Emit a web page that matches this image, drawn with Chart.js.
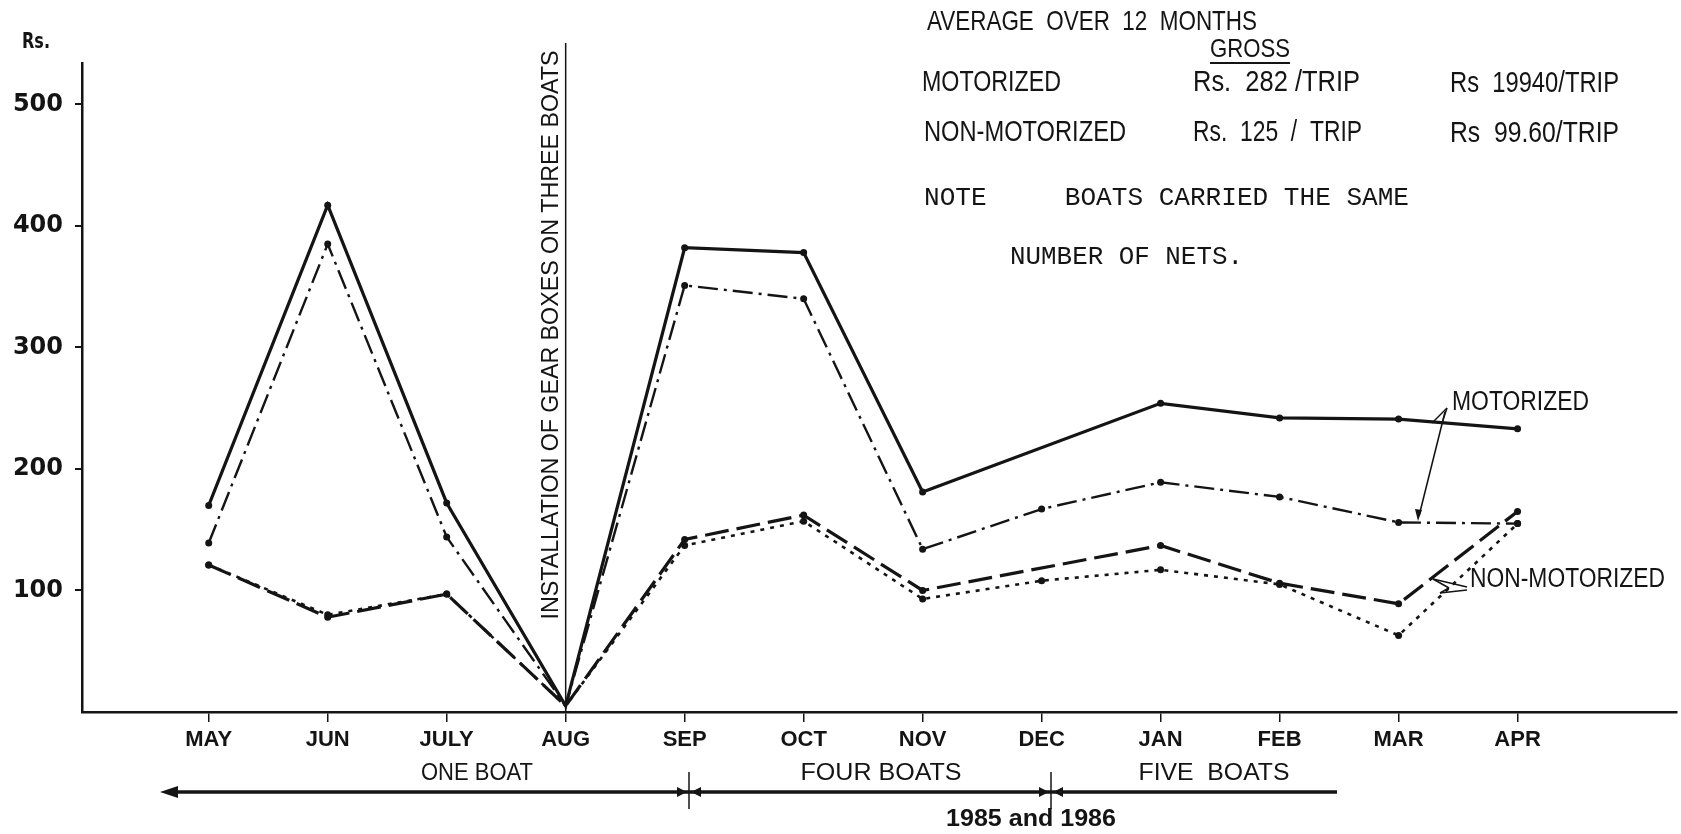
<!DOCTYPE html>
<html>
<head>
<meta charset="utf-8">
<script src="https://cdn.jsdelivr.net/npm/chart.js@4.4.0/dist/chart.umd.min.js"></script>
<style>
    html, body { margin: 0; padding: 0; background: #fff; }
    #wrap { width: 1681px; height: 834px; position: relative; }
</style>
</head>
<body>
<div id="wrap"><canvas id="catchChart"></canvas></div>
<script>
const months = ['MAY', 'JUN', 'JULY', 'AUG', 'SEP', 'OCT', 'NOV', 'DEC', 'JAN', 'FEB', 'MAR', 'APR'];
const motorGross = [170, 417, 172, 5, 382, 378, 181, null, 254, 242, 241, 233];
const motorNet = [139, 385, 144, 5, 351, 340, 134, 167, 189, 177, 156, 155];
const nonMotorGross = [121, 78, 97, 5, 142, 162, 100, null, 137, 106, 89, 165];
const nonMotorNet = [121, 80, 97, 5, 137, 157, 93, 108, 117, 105, 63, 155];
const yTicks = [100, 200, 300, 400, 500];

const INK = '#141414';

function points(values) {
    return values.map(function (v, i) { return { x: i, y: v }; });
}

function dotRadius(context) {
    return context.dataIndex === 3 ? 0 : 3.5;
}

// draws a text squeezed/stretched to a given width
function fitText(c, text, x, y, font, width, align) {
    c.save();
    c.font = font;
    c.textBaseline = 'middle';
    c.textAlign = 'left';
    const w = c.measureText(text).width;
    const left = align === 'center' ? x - width / 2 : x;
    c.translate(left, y);
    c.scale(width / w, 1);
    c.fillStyle = INK;
    c.fillText(text, 0, 0);
    c.restore();
}

function line(c, x1, y1, x2, y2, w) {
    c.beginPath();
    c.lineWidth = w;
    c.moveTo(x1, y1);
    c.lineTo(x2, y2);
    c.stroke();
}

function arrowHead(c, x, y, dir, len, half) {
    c.beginPath();
    c.moveTo(x, y);
    c.lineTo(x - dir * len, y - half);
    c.lineTo(x - dir * len, y + half);
    c.closePath();
    c.fill();
}

const notes = {
    id: 'notes',
    afterDraw: function (chart) {
        const c = chart.ctx;
        const xs = chart.scales.x;
        const ys = chart.scales.y;
        c.save();
        c.strokeStyle = INK;
        c.fillStyle = INK;

        const narrow = "'Liberation Sans Narrow', 'Liberation Sans', sans-serif";
        const mono = "'Liberation Mono', monospace";

        fitText(c, 'Rs.', 22, 43, 'bold 21px DejaVu Sans', 28);

        // gear box installation marker at AUG
        const xAug = xs.getPixelForValue(3);
        line(c, xAug, 43, xAug, ys.getPixelForValue(0), 1.5);
        c.save();
        c.translate(552, 335);
        c.rotate(-Math.PI / 2);
        fitText(c, 'INSTALLATION OF GEAR BOXES ON THREE BOATS', 0, 0, "23px 'Liberation Sans'", 569, 'center');
        c.restore();

        // summary block
        fitText(c, 'AVERAGE  OVER  12  MONTHS', 927, 22, '28px ' + narrow, 330);
        fitText(c, 'GROSS', 1210, 50, '25px ' + narrow, 80);
        line(c, 1210, 63, 1290, 63, 2);
        fitText(c, 'MOTORIZED', 922, 83, '30px ' + narrow, 139);
        fitText(c, 'Rs.  282 /TRIP', 1193, 83, '30px ' + narrow, 167);
        fitText(c, 'Rs  19940/TRIP', 1450, 84, '30px ' + narrow, 169);
        fitText(c, 'NON-MOTORIZED', 924, 133, '30px ' + narrow, 202);
        fitText(c, 'Rs.  125  /  TRIP', 1193, 133, '30px ' + narrow, 169);
        fitText(c, 'Rs  99.60/TRIP', 1450, 134, '30px ' + narrow, 169);
        fitText(c, 'NOTE     BOATS CARRIED THE SAME', 924, 198, '26px ' + mono, 485);
        fitText(c, 'NUMBER OF NETS.', 1010, 257, '26px ' + mono, 233);

        // series labels with pointers
        fitText(c, 'MOTORIZED', 1452, 403, '27px ' + narrow, 137);
        fitText(c, 'NON-MOTORIZED', 1470, 580, '27px ' + narrow, 195);
        line(c, 1447, 408, 1432, 423, 1.5);
        line(c, 1447, 408, 1442, 423, 1.5);
        line(c, 1445, 412, 1419, 516, 1.5);
        c.beginPath();
        c.moveTo(1418, 521);
        c.lineTo(1415, 509);
        c.lineTo(1422, 510);
        c.closePath();
        c.fill();
        line(c, 1467, 587, 1433, 579, 1.5);
        line(c, 1433, 579, 1449, 588, 1.5);
        line(c, 1449, 588, 1440, 593, 1.5);
        line(c, 1440, 593, 1467, 590, 1.5);

        // boat count periods
        fitText(c, 'ONE BOAT', 477, 773, '24px ' + narrow, 112, 'center');
        fitText(c, 'FOUR BOATS', 881, 773, '24px ' + narrow, 161, 'center');
        fitText(c, 'FIVE  BOATS', 1214, 773, '24px ' + narrow, 151, 'center');
        const yArr = 792;
        line(c, 170, yArr, 1337, yArr, 3.5);
        arrowHead(c, 160, yArr, -1, 18, 6);
        const xSep = 689;
        const xDec = 1051;
        line(c, xSep, 772, xSep, 809, 1.5);
        line(c, xDec, 772, xDec, 809, 1.5);
        arrowHead(c, xSep - 2, yArr, 1, 10, 5);
        arrowHead(c, xSep + 2, yArr, -1, 10, 5);
        arrowHead(c, xDec - 2, yArr, 1, 10, 5);
        arrowHead(c, xDec + 2, yArr, -1, 10, 5);
        fitText(c, '1985 and 1986', 1031, 819, 'bold 24px ' + narrow, 170, 'center');

        c.restore();
    }
};

const ctx = document.getElementById('catchChart').getContext('2d');

const catchChart = new Chart(ctx, {
    type: 'line',
    data: {
        datasets: [{
            label: 'Motorized gross',
            data: points(motorGross),
            borderColor: INK,
            borderWidth: 3.2,
            pointRadius: dotRadius,
            pointBackgroundColor: INK,
            pointBorderWidth: 0,
            spanGaps: true,
        }, {
            label: 'Motorized net',
            data: points(motorNet),
            borderColor: INK,
            borderWidth: 2.4,
            borderDash: [20, 6, 3, 6],
            pointRadius: dotRadius,
            pointBackgroundColor: INK,
            pointBorderWidth: 0,
            spanGaps: true,
        }, {
            label: 'Non-motorized gross',
            data: points(nonMotorGross),
            borderColor: INK,
            borderWidth: 3.2,
            borderDash: [24, 8],
            pointRadius: dotRadius,
            pointBackgroundColor: INK,
            pointBorderWidth: 0,
            spanGaps: true,
        }, {
            label: 'Non-motorized net',
            data: points(nonMotorNet),
            borderColor: INK,
            borderWidth: 2.6,
            borderDash: [4, 6],
            pointRadius: dotRadius,
            pointBackgroundColor: INK,
            pointBorderWidth: 0,
            spanGaps: true,
        }]
    },
    options: {
        responsive: true,
        maintainAspectRatio: false,
        animation: false,
        layout: {
            padding: { top: 63, right: 0, left: 0, bottom: 0 }
        },
        scales: {
            x: {
                type: 'linear',
                min: -1.065,
                max: 12.34,
                afterBuildTicks: function (scale) {
                    scale.ticks = months.map(function (m, i) { return { value: i }; });
                },
                afterFit: function (scale) {
                    scale.height = 122;
                },
                grid: {
                    drawOnChartArea: false,
                    drawTicks: true,
                    tickLength: 10,
                    color: INK,
                    lineWidth: 1.5
                },
                border: {
                    display: true,
                    color: INK,
                    width: 2.5
                },
                ticks: {
                    padding: 5,
                    color: INK,
                    maxRotation: 0,
                    autoSkip: false,
                    font: { family: 'Liberation Sans', size: 22, weight: 'bold' },
                    callback: function (value) {
                        return months[value];
                    }
                }
            },
            y: {
                min: 0,
                max: 534,
                afterBuildTicks: function (scale) {
                    scale.ticks = yTicks.map(function (v) { return { value: v }; });
                },
                afterFit: function (scale) {
                    scale.width = 82;
                },
                grid: {
                    drawOnChartArea: false,
                    drawTicks: true,
                    tickLength: 7,
                    color: INK,
                    lineWidth: 2
                },
                border: {
                    display: true,
                    color: INK,
                    width: 2.5
                },
                ticks: {
                    padding: 12,
                    color: INK,
                    font: { family: 'DejaVu Sans', size: 24, weight: 'bold' }
                }
            }
        },
        plugins: {
            legend: { display: false },
            tooltip: { enabled: false }
        },
    },
    plugins: [notes]
});
</script>
</body>
</html>
